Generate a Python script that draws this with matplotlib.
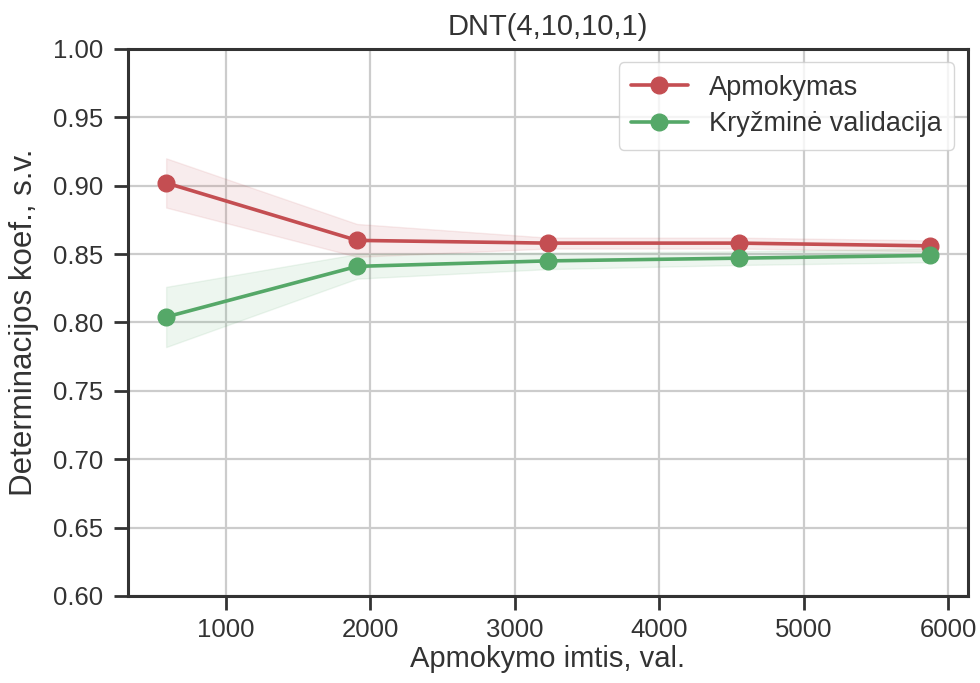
import numpy as np
import matplotlib
matplotlib.use("Agg")
import matplotlib.pyplot as plt
import seaborn as sns

# learning curve results: training set sizes and R^2 scores
train_sizes = [587, 1908, 3230, 4551, 5872]
train_mean = [0.902, 0.860, 0.858, 0.858, 0.856]
train_std = [0.018, 0.012, 0.004, 0.004, 0.004]
test_mean = [0.804, 0.841, 0.845, 0.847, 0.849]
test_std = [0.022, 0.009, 0.006, 0.005, 0.005]

title = "DNT(4,10,10,1)"
xlabel = "Apmokymo imtis, val."
ylabel = "Determinacijos koef., s.v."
labels = ["Apmokymas", "Kryžminė validacija"]

sns.set(style="ticks", color_codes=True)
plt.rcParams["font.family"] = ["Liberation Sans", "DejaVu Sans"]
plt.rcParams.update({
    "font.size": 20,
    "axes.linewidth": 2.2,
    "axes.edgecolor": ".2",
    "xtick.major.size": 10,
    "ytick.major.size": 10,
    "xtick.major.width": 2.0,
    "ytick.major.width": 2.0,
    "xtick.major.pad": 6,
    "ytick.major.pad": 8,
    "xtick.color": ".2",
    "ytick.color": ".2",
    "text.color": ".2",
    "axes.labelcolor": ".2",
})

train_mean = np.array(train_mean)
train_std = np.array(train_std)
test_mean = np.array(test_mean)
test_std = np.array(test_std)

fig = plt.figure(figsize=(9.8, 6.83), dpi=100)
ax = fig.add_axes([0.1306, 0.1274, 0.857, 0.801])

ax.grid(True, color=".8", linewidth=1.6)
ax.fill_between(train_sizes, train_mean - train_std, train_mean + train_std,
                alpha=0.1, color="r")
ax.fill_between(train_sizes, test_mean - test_std, test_mean + test_std,
                alpha=0.1, color="g")
ax.plot(train_sizes, train_mean, "o-", color="r", lw=2.6, ms=12, label=labels[0])
ax.plot(train_sizes, test_mean, "o-", color="g", lw=2.6, ms=12, label=labels[1])

ax.set_ylim(0.6, 1.0)
ax.set_yticks(np.arange(0.60, 1.001, 0.05))
ax.set_xticks([1000, 2000, 3000, 4000, 5000, 6000])
ax.tick_params(labelsize=18.5)
ax.set_title(title, fontsize=21, pad=10)
ax.set_xlabel(xlabel, fontsize=21, labelpad=2)
ax.set_ylabel(ylabel, fontsize=22.5, labelpad=10)
ax.legend(loc="upper right", fontsize=19.5, frameon=True, framealpha=0.8,
          borderpad=0.45, handlelength=2.1, handletextpad=0.8,
          labelspacing=0.4, borderaxespad=0.5)

fig.savefig("out.png", dpi=100)
